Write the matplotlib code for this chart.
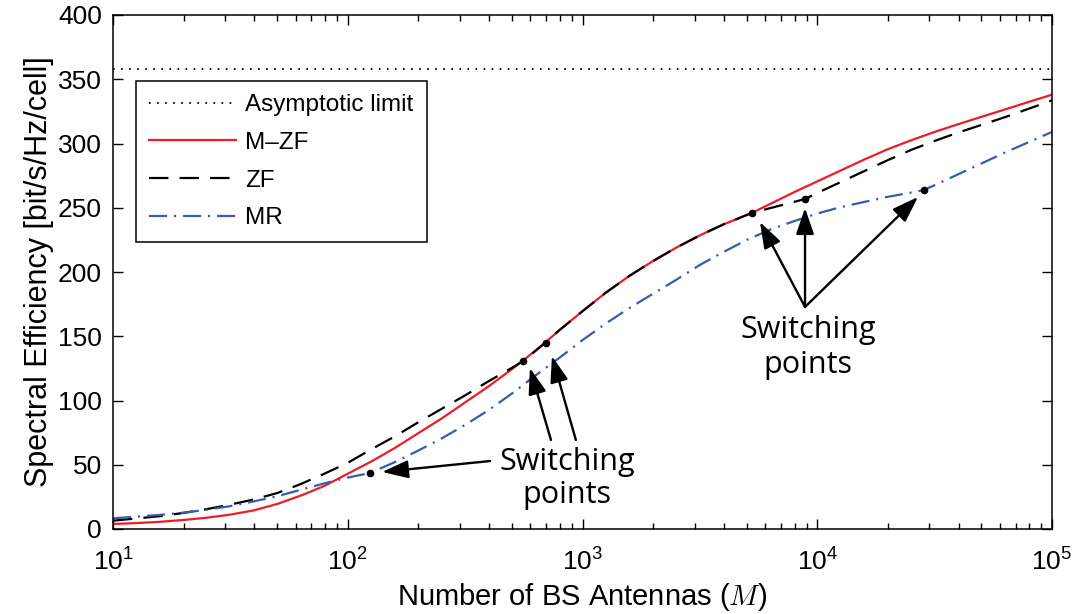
import matplotlib
matplotlib.use("Agg")
import matplotlib.pyplot as plt
import numpy as np

plt.rcParams['font.family'] = ['Liberation Sans', 'DejaVu Sans']
plt.rcParams['mathtext.fontset'] = 'custom'
plt.rcParams['mathtext.rm'] = 'Liberation Sans'
plt.rcParams['mathtext.it'] = 'Liberation Sans:italic'
plt.rcParams['mathtext.bf'] = 'Liberation Sans:bold'
plt.rcParams['lines.scale_dashes'] = False

# ---------------- data ----------------
asymptotic_limit = 358

# log10 of number of antennas M, and spectral efficiency
mzf_logM = [1.0, 1.1, 1.2, 1.3, 1.4, 1.5, 1.6, 1.7, 1.8, 1.9, 2.0, 2.1, 2.2, 2.3,
            2.4, 2.5, 2.6, 2.7, 2.75, 2.8, 2.85, 2.9, 3.0, 3.1, 3.2, 3.3, 3.4,
            3.5, 3.6, 3.722, 3.8, 3.9, 4.0, 4.1, 4.2, 4.3, 4.4, 4.5, 4.6, 4.7,
            4.8, 4.9, 5.0]
mzf_se = [3.9, 4.6, 5.6, 7.0, 8.8, 11.2, 14.5, 19.5, 26, 33.5, 43, 52.5, 63,
          74.5, 86, 98.5, 111, 124.5, 131.5, 139, 146.5, 154.5, 169.5, 184,
          197, 208.5, 219, 228.5, 237, 246, 253, 262, 270.5, 279, 287.5, 295.5,
          302.5, 309, 315, 320.8, 326.5, 332.3, 338]

zf_logM = [1.0, 1.1, 1.2, 1.3, 1.4, 1.5, 1.6, 1.7, 1.8, 1.9, 2.0, 2.1, 2.2, 2.3,
           2.4, 2.5, 2.6, 2.7, 2.747, 2.843, 2.9, 3.0, 3.1, 3.2, 3.3, 3.4, 3.5,
           3.6, 3.722, 3.948, 4.0, 4.1, 4.2, 4.3, 4.4, 4.5, 4.6, 4.7, 4.8, 4.9,
           5.0]
zf_se = [6.5, 8.2, 10, 12.5, 15.5, 19, 23, 28, 35, 43, 51.5, 62, 72, 83, 93.5,
         104, 115, 125.5, 130.7, 145.1, 154.5, 169.5, 184, 197, 208.5, 219,
         228.5, 237, 246, 256.8, 261.5, 270, 278.5, 287, 295, 302, 308.5,
         314.5, 320.5, 327, 333.5]

mr_logM = [1.0, 1.1, 1.2, 1.3, 1.4, 1.5, 1.6, 1.7, 1.8, 1.9, 2.0, 2.095, 2.2,
           2.3, 2.4, 2.5, 2.6, 2.7, 2.8, 2.9, 3.0, 3.1, 3.2, 3.3, 3.4, 3.5, 3.6,
           3.7, 3.8, 3.9, 4.0, 4.1, 4.2, 4.3, 4.4, 4.455, 4.6, 4.7, 4.8, 4.9,
           5.0]
mr_se = [8.3, 9.6, 11, 12.7, 15, 17.8, 21.5, 25.5, 30.5, 35.5, 40, 43.6, 52,
         61, 70.5, 81, 92.5, 105.5, 119.5, 133, 147, 160, 172, 183, 194, 205.5,
         215.5, 225, 233, 239.5, 245.5, 250.5, 254.5, 258.5, 261.8, 263.8, 276,
         284.5, 293, 301, 309]

switch_logM = [2.095, 2.747, 2.843, 3.722, 3.948, 4.455]
switch_se = [43.6, 130.7, 145.1, 246, 256.8, 263.8]

x_ticks = [1e1, 1e2, 1e3, 1e4, 1e5]
y_ticks = [0, 50, 100, 150, 200, 250, 300, 350, 400]

legend_labels = ['Asymptotic limit', 'M\u2013ZF', 'ZF', 'MR']
annot_text = ['Switching', 'points']

mzf_M = np.power(10.0, mzf_logM)
zf_M = np.power(10.0, zf_logM)
mr_M = np.power(10.0, mr_logM)
switch_M = np.power(10.0, switch_logM)

# ---------------- figure ----------------
fig = plt.figure(figsize=(10.75, 6.14), dpi=100)
ax = fig.add_axes([113/1075, 1-529/614, 939/1075, 514/614])

ax.set_xscale('log')
ax.set_xlim(10, 1e5)
ax.set_ylim(0, 400)

ax.axhline(asymptotic_limit, color='black', lw=1.3, linestyle=(0, (1.2, 4.6)),
           label=legend_labels[0])
ax.plot(mzf_M, mzf_se, color='#ee1c25', lw=1.6, label=legend_labels[1])
ax.plot(zf_M, zf_se, color='black', lw=1.6, linestyle=(0, (14, 8)),
        label=legend_labels[2])
ax.plot(mr_M, mr_se, color='#3a5bab', lw=1.6,
        linestyle=(0, (13, 5, 1.5, 5)), label=legend_labels[3])
ax.plot(switch_M, switch_se, 'o', color='black', ms=4.5, zorder=5)

ax.set_xticks(x_ticks)
ax.set_yticks(y_ticks)
ax.tick_params(which='both', direction='in', top=True, right=True,
               labelsize=19, width=1.0)
ax.tick_params(which='major', length=7)
ax.tick_params(axis='x', which='major', pad=14)
ax.tick_params(axis='y', which='major', pad=8)
ax.tick_params(which='minor', length=4)
for s in ax.spines.values():
    s.set_linewidth(1.1)

ax.set_xlabel(r'Number of BS Antennas ($M$)', fontsize=21, labelpad=4,
              math_fontfamily='cm')
ax.set_ylabel('Spectral Efficiency [bit/s/Hz/cell]', fontsize=22, labelpad=3)

leg = ax.legend(loc='upper left', bbox_to_anchor=(0.0245, 0.8716),
                borderaxespad=0, fontsize=17.5, handlelength=3.55,
                handletextpad=0.4, labelspacing=0.64, borderpad=0.55,
                fancybox=False, framealpha=1, edgecolor='black')
leg.get_frame().set_linewidth(1.1)

arrow_kw = dict(arrowstyle='-|>,head_length=1.6,head_width=0.55',
                color='black', lw=1.7, shrinkA=0, shrinkB=0)

# lower group
ax.annotate('', xy=(140, 44.4), xytext=(404, 52.9), arrowprops=arrow_kw)
ax.annotate('', xy=(597, 125.3), xytext=(734, 69.3), arrowprops=arrow_kw)
ax.annotate('', xy=(741, 134.6), xytext=(937, 69.3), arrowprops=arrow_kw)
ax.text(859, 52, annot_text[0], fontsize=22, family='Open Sans',
        ha='center', va='center')
ax.text(859, 26.5, annot_text[1], fontsize=22, family='Open Sans',
        ha='center', va='center')

# upper group
for tip in [(5700, 238.9), (8870, 249.8), (26860, 258.4)]:
    ax.annotate('', xy=tip, xytext=(8870, 172.8), arrowprops=arrow_kw)
ax.text(9140, 154.9, annot_text[0], fontsize=22, family='Open Sans',
        ha='center', va='center')
ax.text(9140, 127.6, annot_text[1], fontsize=22, family='Open Sans',
        ha='center', va='center')

fig.savefig('out.png', dpi=100)
